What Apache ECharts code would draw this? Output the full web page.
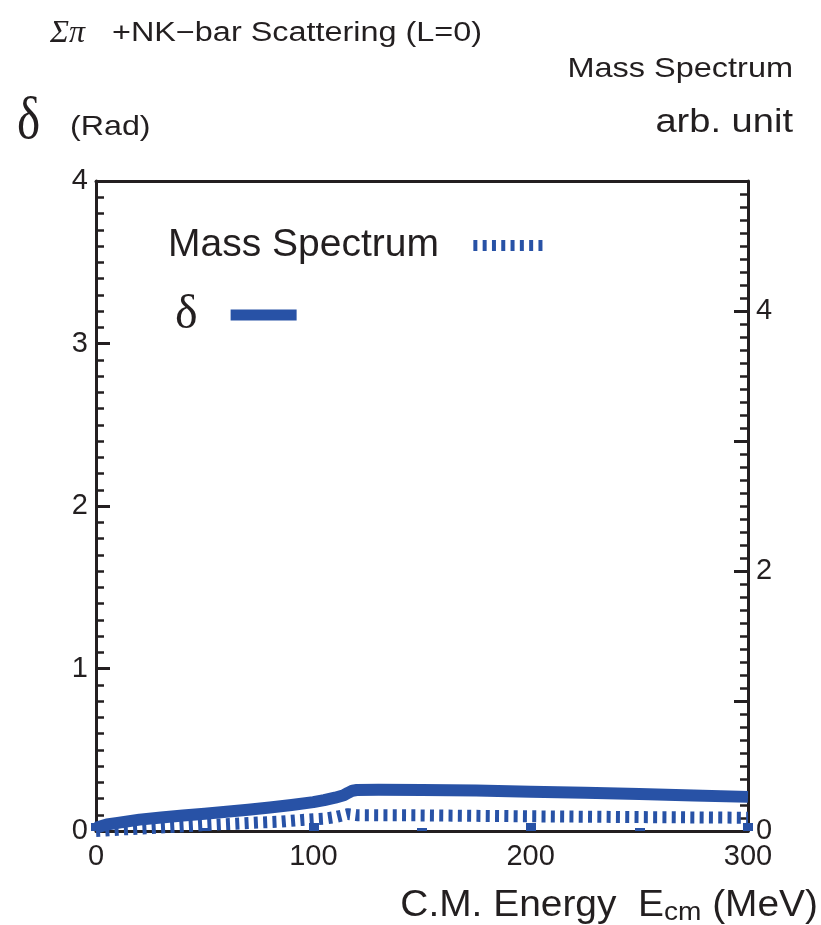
<!DOCTYPE html>
<html>
<head>
<meta charset="utf-8">
<title>Σπ +NK-bar Scattering (L=0)</title>
<script src="https://cdn.jsdelivr.net/npm/echarts@6/dist/echarts.min.js"></script>
<style>
  html, body { margin: 0; padding: 0; background: #fff; }
  #main { width: 821px; height: 925px; }
</style>
</head>
<body>
<div id="main"></div>
<script type="text/javascript">
// phase shift delta (rad) vs C.M. energy (MeV), left axis
var deltaEnergy = [0, 5, 10, 20, 30, 40, 50, 60, 70, 80, 90, 100, 105, 110, 114, 116, 118, 120, 130, 150, 175, 200, 225, 250, 275, 300];
var deltaValue  = [0.02, 0.04, 0.05, 0.07, 0.083, 0.095, 0.106, 0.118, 0.131, 0.145, 0.16, 0.178, 0.19, 0.205, 0.22, 0.235, 0.248, 0.252, 0.254, 0.253, 0.249, 0.242, 0.235, 0.227, 0.219, 0.21];

// mass spectrum (arb. unit) vs C.M. energy (MeV), right axis
var massEnergy = [0, 10, 25, 50, 75, 85, 95, 105, 111, 116, 120, 150, 200, 250, 300];
var massValue  = [0.0, 0.01, 0.023, 0.045, 0.065, 0.072, 0.085, 0.095, 0.11, 0.13, 0.122, 0.12, 0.113, 0.107, 0.102];

// tick labels
var xTickLabels = [0, 100, 200, 300];
var leftTickLabels = [0, 1, 2, 3, 4];
var rightTickLabels = [0, 2, 4];

var BLUE = '#2852a6';
var INK = '#231f20';
var SANS = '"Liberation Sans", Arial, sans-serif';
var SERIF = '"Liberation Serif", "Times New Roman", serif';

function pairs(xs, ys) {
    var out = [];
    for (var i = 0; i < xs.length; i++) out.push([xs[i], ys[i]]);
    return out;
}

// dotted legend sample: 8 short bars
var dashIcon = 'path://';
for (var k = 0; k < 8; k++) {
    dashIcon += 'M' + (k * 9.3) + ' 0h4v11h-4z ';
}

var myChart = echarts.init(document.getElementById('main'));

var option = {
    animation: false,
    backgroundColor: '#fff',
    grid: { left: 96, right: 73, top: 181, bottom: 94, containLabel: false },
    legend: [{
        data: ['Mass Spectrum'],
        left: 168, top: 226,
        padding: 0,
        align: 'right',
        selectedMode: false,
        itemWidth: 70, itemHeight: 11,
        icon: dashIcon,
        textStyle: { fontSize: 39, fontFamily: SANS, color: INK, padding: [0, 29, 0, 0] }
    }, {
        data: ['δ'],
        left: 175, top: 291,
        padding: 0,
        align: 'right',
        selectedMode: false,
        itemWidth: 66, itemHeight: 11,
        icon: 'rect',
        textStyle: { fontSize: 48, fontFamily: SERIF, color: INK, padding: [0, 28, 0, 0] }
    }],
    xAxis: [{
        type: 'value',
        position: 'bottom',
        min: 0, max: 300, interval: 100,
        splitLine: { show: false },
        axisLine: { onZero: false, lineStyle: { color: INK, width: 3 } },
        axisTick: { inside: true, length: 8, lineStyle: { color: BLUE, width: 10 } },
        minorTick: { show: true, splitNumber: 2, length: 3, lineStyle: { color: BLUE, width: 10 } },
        axisLabel: {
            margin: 11, fontSize: 29, fontFamily: SANS, color: INK,
            formatter: function (v) { return xTickLabels.indexOf(v) >= 0 ? String(v) : ''; }
        }
    }, {
        type: 'value',
        position: 'top',
        min: 0, max: 300,
        splitLine: { show: false },
        axisLine: { onZero: false, lineStyle: { color: INK, width: 3 } },
        axisTick: { show: false },
        axisLabel: { show: false }
    }],
    yAxis: [{
        type: 'value',
        position: 'left',
        min: 0, max: 4, interval: 1,
        splitLine: { show: false },
        axisLine: { show: true, onZero: false, lineStyle: { color: INK, width: 3 } },
        axisTick: { inside: true, length: 14, lineStyle: { color: INK, width: 3 } },
        minorTick: { show: true, splitNumber: 10, length: 8, lineStyle: { color: INK, width: 2.5 } },
        axisLabel: {
            margin: 8, fontSize: 29, fontFamily: SANS, color: INK,
            formatter: function (v) { return leftTickLabels.indexOf(v) >= 0 ? String(v) : ''; }
        }
    }, {
        type: 'value',
        position: 'right',
        min: 0, max: 5, interval: 1,
        splitLine: { show: false },
        axisLine: { show: true, onZero: false, lineStyle: { color: INK, width: 3 } },
        axisTick: { inside: true, length: 14, lineStyle: { color: INK, width: 3 } },
        minorTick: { show: true, splitNumber: 10, length: 8, lineStyle: { color: INK, width: 2.5 } },
        axisLabel: {
            margin: 8, fontSize: 29, fontFamily: SANS, color: INK,
            formatter: function (v) { return rightTickLabels.indexOf(v) >= 0 ? String(v) : ''; }
        }
    }],
    series: [{
        name: 'Mass Spectrum',
        type: 'line',
        yAxisIndex: 1,
        color: BLUE,
        showSymbol: false,
        symbol: 'none',
        clip: false,
        lineStyle: { color: BLUE, width: 12, type: [4, 5.3], cap: 'butt' },
        data: pairs(massEnergy, massValue),
        z: 3
    }, {
        name: 'δ',
        type: 'line',
        yAxisIndex: 0,
        color: BLUE,
        showSymbol: false,
        symbol: 'none',
        clip: false,
        lineStyle: { color: BLUE, width: 12, cap: 'butt', join: 'round' },
        data: pairs(deltaEnergy, deltaValue),
        z: 4
    }],
    graphic: [{
        type: 'text', x: 50, y: 34,
        style: { text: 'Σπ', font: 'italic 32px ' + SERIF, fill: INK, verticalAlign: 'middle' }
    }, {
        type: 'text', x: 112, y: 34, scaleX: 1.2,
        style: { text: '+NK\u2212bar Scattering (L=0)', font: '27px ' + SANS, fill: INK, verticalAlign: 'middle' }
    }, {
        type: 'text', x: 17, y: 122, scaleX: 0.82,
        style: { text: 'δ', font: '60px ' + SERIF, fill: INK, verticalAlign: 'middle' }
    }, {
        type: 'text', x: 70, y: 127, scaleX: 1.15,
        style: { text: '(Rad)', font: '28px ' + SANS, fill: INK, verticalAlign: 'middle' }
    }, {
        type: 'text', x: 793, y: 69, scaleX: 1.16,
        style: { text: 'Mass Spectrum', font: '28px ' + SANS, fill: INK, align: 'right', verticalAlign: 'middle' }
    }, {
        type: 'text', x: 793, y: 123, scaleX: 1.12,
        style: { text: 'arb. unit', font: '34px ' + SANS, fill: INK, align: 'right', verticalAlign: 'middle' }
    }, {
        type: 'text', x: 818, y: 906, scaleX: 1.08,
        style: {
            text: 'C.M. Energy  E{sub|cm} (MeV)',
            font: '36px ' + SANS, fill: INK, align: 'right', verticalAlign: 'middle',
            rich: { sub: { fontSize: 26, fontFamily: SANS, fill: INK, padding: [14, 0, 0, 0] } }
        }
    }]
};

myChart.setOption(option);
window.onresize = myChart.resize;
</script>
</body>
</html>
